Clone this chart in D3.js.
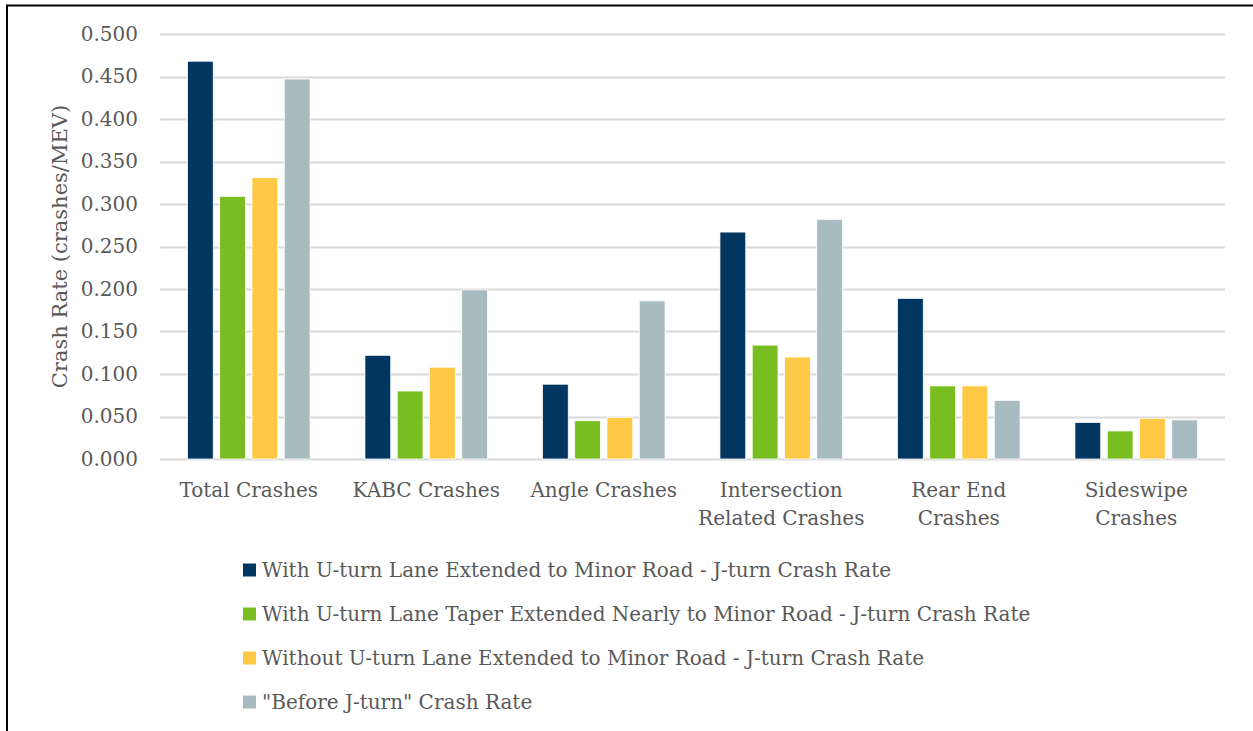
<!DOCTYPE html>
<html>
<head>
<meta charset="utf-8">
<script src="https://cdn.jsdelivr.net/npm/d3@7"></script>
<style>
  html, body { margin: 0; padding: 0; background: #fff; }
  svg { display: block; }
  text { font-family: "DejaVu Serif", serif; fill: #595959; }
</style>
</head>
<body>
<svg id="chart" width="1253" height="731"></svg>
<script>
// Crash categories (multi-line labels split on "\n")
const categories = [
  "Total Crashes",
  "KABC Crashes",
  "Angle Crashes",
  "Intersection\nRelated Crashes",
  "Rear End\nCrashes",
  "Sideswipe\nCrashes"
];

const seriesNames = [
  "With U-turn Lane Extended to Minor Road - J-turn Crash Rate",
  "With U-turn Lane Taper Extended Nearly to Minor Road - J-turn Crash Rate",
  "Without U-turn Lane Extended to Minor Road - J-turn Crash Rate",
  "\"Before J-turn\" Crash Rate"
];

// Crash rates (crashes/MEV) per series, in category order
const withExtended    = [0.468, 0.122, 0.088, 0.267, 0.189, 0.043];
const withTaper       = [0.309, 0.080, 0.045, 0.134, 0.086, 0.033];
const withoutExtended = [0.331, 0.108, 0.049, 0.120, 0.086, 0.048];
const beforeJturn     = [0.447, 0.199, 0.186, 0.282, 0.069, 0.046];

const yTicks = [0, 0.05, 0.1, 0.15, 0.2, 0.25, 0.3, 0.35, 0.4, 0.45, 0.5];

const seriesColors = ["#003660", "#78BE20", "#FFC845", "#A7BBC1"];
const seriesValues = [withExtended, withTaper, withoutExtended, beforeJturn];

const svg = d3.select("#chart");

// Frame lines (left and top)
svg.append("line").attr("x1", 7).attr("x2", 7).attr("y1", 5).attr("y2", 731)
  .attr("stroke", "#000").attr("stroke-width", 2);
svg.append("line").attr("x1", 6).attr("x2", 1253).attr("y1", 5.5).attr("y2", 5.5)
  .attr("stroke", "#000").attr("stroke-width", 2);

const plot = { left: 160, right: 1225, top: 34, bottom: 459 };

const x = d3.scaleBand().domain(categories).range([plot.left, plot.right]).paddingInner(0).paddingOuter(0);
const xs = d3.scaleBand().domain(d3.range(seriesNames.length)).range([0, x.bandwidth()])
  .paddingInner(0.2).paddingOuter(0.85);
const y = d3.scaleLinear().domain([0, 0.5]).range([plot.bottom, plot.top]);

// Gridlines
svg.append("g").selectAll("line").data(yTicks).join("line")
  .attr("x1", plot.left).attr("x2", plot.right)
  .attr("y1", d => Math.round(y(d)) + 0.5).attr("y2", d => Math.round(y(d)) + 0.5)
  .attr("stroke", "#d9d9d9").attr("stroke-width", 2);

// Y axis tick labels
const yAxis = d3.axisLeft(y).tickValues(yTicks).tickFormat(d3.format(".3f")).tickSize(0).tickPadding(0);
const yg = svg.append("g").attr("transform", `translate(138,0)`).call(yAxis);
yg.select(".domain").remove();
yg.selectAll("text").attr("font-size", 20).attr("font-family", "DejaVu Serif").attr("fill", "#595959");

// Y axis title
svg.append("text")
  .attr("transform", `translate(67,${(plot.top + plot.bottom) / 2}) rotate(-90)`)
  .attr("text-anchor", "middle")
  .attr("font-size", 21)
  .text("Crash Rate (crashes/MEV)");

// Bars
const groups = svg.append("g").selectAll("g").data(categories).join("g")
  .attr("transform", d => `translate(${x(d)},0)`);
groups.selectAll("rect")
  .data((d, i) => seriesValues.map((vals, s) => ({ s, v: vals[i] })))
  .join("rect")
  .attr("x", d => xs(d.s))
  .attr("width", xs.bandwidth())
  .attr("y", d => y(d.v))
  .attr("height", d => y(0) - y(d.v))
  .attr("fill", d => seriesColors[d.s])
  .attr("stroke", "#fff").attr("stroke-width", 0.8);

// X category labels
const xl = svg.append("g").selectAll("text").data(categories).join("text")
  .attr("x", d => x(d) + x.bandwidth() / 2)
  .attr("y", 497)
  .attr("text-anchor", "middle")
  .attr("font-size", 20);
xl.each(function(d) {
  const lines = d.split("\n");
  d3.select(this).selectAll("tspan").data(lines).join("tspan")
    .attr("x", x(d) + x.bandwidth() / 2)
    .attr("dy", (l, i) => i === 0 ? 0 : 28)
    .text(l => l);
});

// Legend
const legend = svg.append("g").selectAll("g").data(seriesNames).join("g")
  .attr("transform", (d, i) => `translate(243,${570 + i * 44})`);
legend.append("rect").attr("x", 0).attr("y", -6.5).attr("width", 13).attr("height", 13)
  .attr("fill", (d, i) => seriesColors[i]);
legend.append("text").attr("x", 19).attr("y", 7).attr("font-size", 20).text(d => d);
</script>
</body>
</html>
